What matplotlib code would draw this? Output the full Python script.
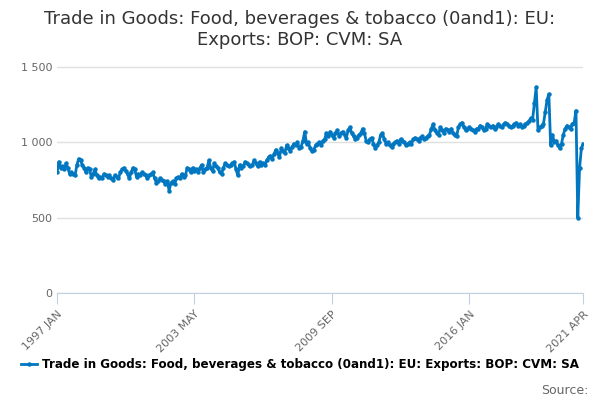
import matplotlib.pyplot as plt
import numpy as np

values = [
    800, 870, 830, 840, 820, 860, 830, 790, 800, 790, 780, 850,
    890, 880, 850, 830, 800, 830, 820, 770, 790, 820, 780, 760,
    770, 760, 790, 780, 770, 780, 760, 750, 780, 770, 760, 800,
    820, 830, 810, 790, 760, 800, 830, 820, 770, 790, 780, 800,
    790, 780, 760, 780, 790, 800, 760, 730, 740, 760, 750, 740,
    720, 740, 680, 730, 740, 720, 760, 770, 760, 790, 770, 780,
    830, 820, 800, 830, 810, 820, 800, 830, 850, 800, 820, 830,
    880, 830, 810, 860, 840, 830, 800, 790, 830, 860, 850, 840,
    850, 860, 870, 820, 780, 850, 830, 840, 870, 860, 850, 840,
    850, 880, 860, 840, 870, 850, 860, 850, 880, 900, 910, 890,
    920, 950, 930, 900, 960, 940, 930, 980, 960, 940, 970, 990,
    980, 1000, 960, 970, 1010, 1070, 990, 1000, 960, 940, 950, 980,
    990, 1000, 980, 1010, 1020, 1060, 1040, 1070, 1050, 1030, 1060, 1080,
    1040, 1060, 1070, 1050, 1030, 1080, 1100, 1060, 1040, 1020, 1030, 1050,
    1060, 1090, 1060, 1010, 1000, 1020, 1030, 990, 960, 980, 1000, 1050,
    1060, 1020, 990, 1000, 980, 970, 990, 1000, 1010, 990, 1020, 1010,
    1000, 980, 990, 1000, 990, 1020, 1030, 1020, 1010, 1030, 1040, 1020,
    1030, 1040, 1050, 1090, 1120, 1080, 1060, 1050, 1100, 1080, 1060, 1090,
    1080, 1070, 1090, 1060, 1050, 1040, 1100, 1120, 1130, 1100, 1080, 1090,
    1100, 1090, 1080, 1070, 1090, 1090, 1110, 1100, 1080, 1090, 1120, 1110,
    1100, 1110, 1090, 1100, 1120, 1110, 1100, 1120, 1130, 1120, 1110, 1100,
    1110, 1120, 1130, 1110, 1120, 1100, 1110, 1120, 1130, 1140, 1160, 1150,
    1260, 1365, 1080, 1100, 1110, 1120, 1200, 1280, 1320, 980, 1050, 1000,
    1010, 980, 960, 990, 1050, 1090, 1110, 1100, 1090, 1120, 1130, 1210,
    500, 830, 960, 990,
]
tick_pos = [0, 76, 152, 228, 291]
tick_labels = ['1997 JAN', '2003 MAY', '2009 SEP', '2016 JAN', '2021 APR']
yticks = [0, 500, 1000, 1500]
ylabels = ['0', '500', '1 000', '1 500']
name = 'Trade in Goods: Food, beverages & tobacco (0and1): EU: Exports: BOP: CVM: SA'

fig = plt.figure(figsize=(6, 4), dpi=100)
ax = fig.add_axes([0.095, 0.2675, 0.877, 0.584])
x = np.arange(len(values))
ax.plot(x, values, color='#0077c0', lw=2, marker='o', ms=2.2, label=name)
ax.set_xlim(0, len(values) - 1)
ax.set_ylim(0, 1550)
ax.set_yticks(yticks)
ax.set_yticklabels(ylabels)
ax.set_xticks(tick_pos)
ax.set_xticklabels(tick_labels, rotation=45, ha='right', rotation_mode='anchor')
ax.grid(axis='y', color='#e0e0e0', lw=1)
ax.set_axisbelow(True)
for s in ['left', 'right', 'top']:
    ax.spines[s].set_visible(False)
ax.spines['bottom'].set_color('#c0d0e0')
ax.tick_params(axis='x', colors='#c0d0e0', labelcolor='#666666', labelsize=8, length=8)
ax.tick_params(axis='y', length=0, labelcolor='#666666', labelsize=8)
fig.suptitle('Trade in Goods: Food, beverages & tobacco (0and1): EU:\nExports: BOP: CVM: SA',
             fontsize=13, color='#333333', y=0.975)
fig.legend(loc='lower center', bbox_to_anchor=(0.5, 0.045), frameon=False,
           prop={'weight': 'bold', 'size': 8.6}, handlelength=1.3, handletextpad=0.4)
fig.text(0.98, 0.015, 'Source:', ha='right', fontsize=9, color='#666666')
fig.savefig('out.png')
